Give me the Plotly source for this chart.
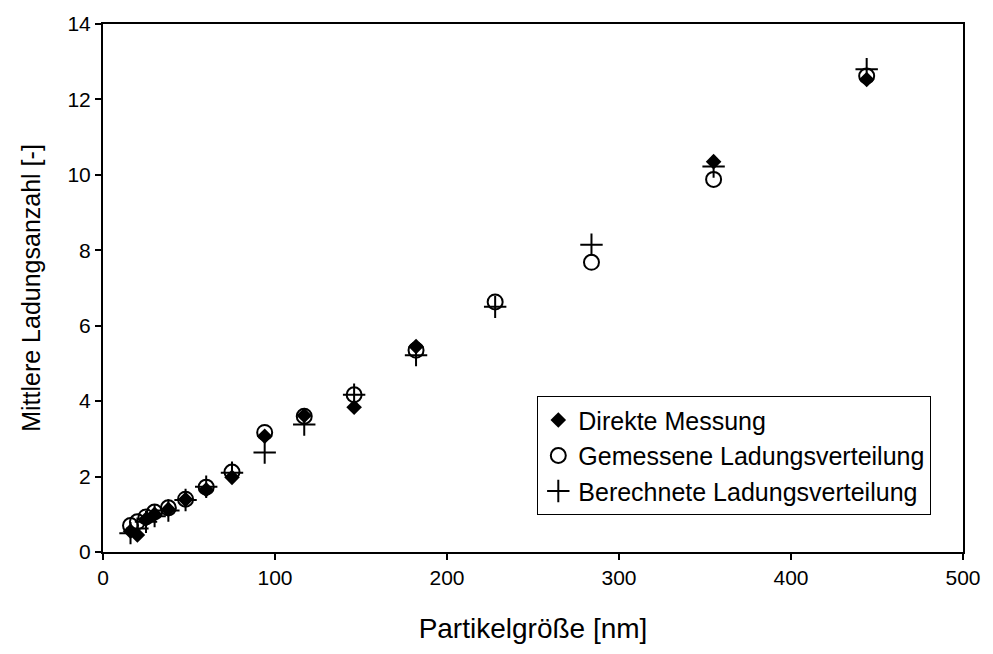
import plotly.graph_objects as go

partikel_nm = [16, 20, 25, 30, 38, 48, 60, 75, 94, 117, 146, 182, 228, 284, 355, 444]
direkte_messung = [0.55, 0.45, 0.87, 1.0, 1.13, 1.39, 1.65, 1.98, 3.07, 3.62, 3.84, 5.45, None, None, 10.35, 12.53]
gemessene_verteilung = [0.7, 0.8, 0.93, 1.06, 1.17, 1.4, 1.72, 2.12, 3.17, 3.6, 4.17, 5.35, 6.63, 7.68, 9.88, 12.62]
berechnete_verteilung = [0.5, 0.62, 0.8, 0.95, 1.1, 1.38, 1.73, 2.1, 2.64, 3.38, 4.17, 5.22, 6.5, 8.15, 10.22, 12.8]

x_ticks = [0, 100, 200, 300, 400, 500]
y_ticks = [0, 2, 4, 6, 8, 10, 12, 14]

FONT = "Liberation Sans, Arial, sans-serif"

fig = go.Figure()
fig.add_trace(go.Scatter(
    x=partikel_nm, y=direkte_messung, mode="markers", name="Direkte Messung",
    legendgroup="a",
    marker=dict(symbol="diamond", size=12, color="black", line=dict(width=0)),
))
fig.add_trace(go.Scatter(
    x=partikel_nm, y=gemessene_verteilung, mode="markers", name="Gemessene Ladungsverteilung",
    legendgroup="b",
    marker=dict(symbol="circle-open", size=15, color="black", line=dict(width=2, color="black")),
))
fig.add_trace(go.Scatter(
    x=partikel_nm, y=berechnete_verteilung, mode="markers", name="Berechnete Ladungsverteilung",
    legendgroup="c",
    marker=dict(symbol="cross-thin-open", size=16, color="black", line=dict(width=2, color="black")),
))

axis_common = dict(
    showgrid=False, zeroline=False, showline=True, linecolor="black", linewidth=2,
    mirror=True, ticks="outside", ticklen=6, tickwidth=1.5, tickcolor="black",
    tickfont=dict(family=FONT, size=21, color="black"),
)

fig.update_layout(
    width=993, height=654,
    margin=dict(l=103, r=29, t=20, b=102),
    paper_bgcolor="white", plot_bgcolor="white",
    font=dict(family=FONT, color="black"),
    xaxis=dict(range=[0, 500], tickvals=x_ticks,
               title=dict(text="Partikelgröße [nm]", font=dict(family=FONT, size=28), standoff=30),
               **axis_common),
    yaxis=dict(range=[0, 14], tickvals=y_ticks,
               title=dict(text="Mittlere Ladungsanzahl [-]", font=dict(family=FONT, size=25), standoff=20),
               **axis_common),
    legend=dict(
        x=0.505, y=0.295, xanchor="left", yanchor="top",
        bordercolor="black", borderwidth=1, bgcolor="white",
        font=dict(family=FONT, size=25, color="black"),
        tracegroupgap=0, itemwidth=30,
    ),
    showlegend=True,
)

fig.write_html("out.html")
